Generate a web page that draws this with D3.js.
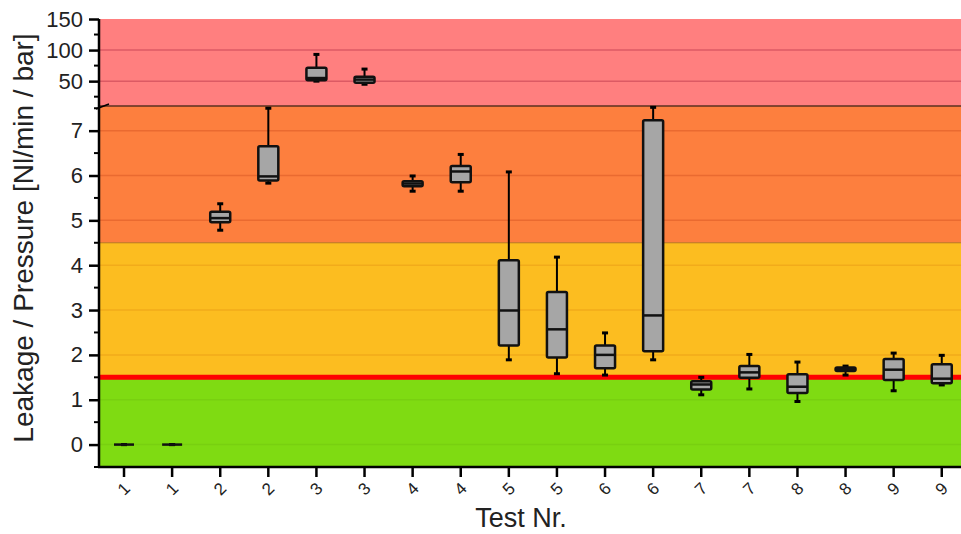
<!DOCTYPE html>
<html lang="en">
<head>
<meta charset="UTF-8">
<title>Leakage / Pressure box plot</title>
<script src="https://d3js.org/d3.v7.min.js"></script>
<style>
  body { margin: 0; background: #fff; font-family: "Liberation Sans", Arial, sans-serif; }
  svg { display: block; }
</style>
</head>
<body>
<svg id="chart" width="961" height="534"></svg>
<script>
// categories and box statistics
const labels = ["1","1","2","2","3","3","4","4","5","5","6","6","7","7","8","8","9","9"];
const whiskerLow  = [0, 0, 4.78, 5.83, 50.0, 45.0, 5.65, 5.65, 1.89, 1.58, 1.55, 1.89, 1.11, 1.24, 0.96, 1.55, 1.20, 1.33];
const q1          = [0, 0, 4.96, 5.89, 51.6, 47.5, 5.76, 5.85, 2.21, 1.94, 1.70, 2.08, 1.23, 1.49, 1.15, 1.64, 1.44, 1.37];
const median      = [0, 0, 5.05, 5.98, 55.0, 52.5, 5.82, 6.09, 2.99, 2.57, 2.00, 2.88, 1.34, 1.61, 1.29, 1.69, 1.67, 1.47];
const q3          = [0, 0, 5.19, 6.65, 71.5, 57.0, 5.87, 6.21, 4.11, 3.40, 2.21, 7.23, 1.41, 1.75, 1.57, 1.72, 1.91, 1.79];
const whiskerHigh = [0, 0, 5.37, 7.50, 93.0, 69.4, 5.99, 6.47, 6.08, 4.18, 2.49, 7.52, 1.50, 2.01, 1.84, 1.75, 2.04, 1.99];

// axis ticks
const lowTicks = [0, 1, 2, 3, 4, 5, 6, 7];
const highTicks = [50, 100, 150];
const limitLine = 1.5;
const zoneLimits = [-0.5, 1.5, 4.5, 7.55, 150];

const svg = d3.select("#chart");
const plotLeft = 99, plotRight = 961, plotTop = 19, plotBottom = 467, breakY = 106;

const x = d3.scaleLinear().domain([-0.52, 17.4]).range([plotLeft, plotRight]);
const yLow = d3.scaleLinear().domain([-0.5, 7.55]).range([plotBottom, breakY]);
const yHigh = d3.scaleLinear().domain([10, 150]).range([breakY, plotTop]);
const y = v => v > 7.55 ? yHigh(v) : yLow(v);

// background zones
const zoneColors = ["#7fdb12", "#fcbd20", "#fd7f3e", "#ff7f7f"];
const gridColors = ["#78d010", "#f2ab1a", "#ea6a30", "#dc5a64"];
for (let i = 0; i < 4; i++) {
  svg.append("rect")
    .attr("x", plotLeft).attr("width", plotRight - plotLeft)
    .attr("y", y(zoneLimits[i + 1]))
    .attr("height", y(zoneLimits[i]) - y(zoneLimits[i + 1]))
    .attr("fill", zoneColors[i]);
}

// gridlines
const zoneOf = v => v > 7.55 ? 3 : v > 4.5 ? 2 : v > 1.5 ? 1 : 0;
svg.append("g").selectAll("line")
  .data(lowTicks.concat([50, 100]))
  .join("line")
  .attr("x1", plotLeft).attr("x2", plotRight)
  .attr("y1", d => y(d)).attr("y2", d => y(d))
  .attr("stroke", d => gridColors[zoneOf(d)])
  .attr("stroke-width", 1.5);

// zone borders
svg.append("line").attr("x1", plotLeft).attr("x2", plotRight)
  .attr("y1", breakY).attr("y2", breakY)
  .attr("stroke", "#5a3020").attr("stroke-width", 1.5);
svg.append("line").attr("x1", plotLeft).attr("x2", plotRight)
  .attr("y1", yLow(4.5)).attr("y2", yLow(4.5))
  .attr("stroke", "#b8741c").attr("stroke-width", 1);

// limit line
svg.append("line").attr("x1", plotLeft).attr("x2", plotRight)
  .attr("y1", yLow(limitLine)).attr("y2", yLow(limitLine))
  .attr("stroke", "#ff0000").attr("stroke-width", 5);

// axes
const axisLow = svg.append("g")
  .attr("transform", `translate(${plotLeft},0)`)
  .call(d3.axisLeft(yLow).tickValues(lowTicks).tickSize(10).tickPadding(6).tickFormat(d3.format("d")));
const axisHigh = svg.append("g")
  .attr("transform", `translate(${plotLeft},0)`)
  .call(d3.axisLeft(yHigh).tickValues(highTicks).tickSize(10).tickPadding(6));
[axisLow, axisHigh].forEach(g => {
  g.select(".domain").remove();
  g.selectAll("line").attr("stroke", "#000").attr("stroke-width", 2.5);
  g.selectAll("text").attr("font-size", 22).attr("fill", "#222")
    .attr("font-family", "Liberation Sans, Arial, sans-serif");
});

// minor ticks
const minorLow = d3.range(-0.5, 7.51, 1);
const minorHigh = [25, 75, 125];
svg.append("g").selectAll("line")
  .data(minorLow.map(yLow).concat(minorHigh.map(yHigh)))
  .join("line")
  .attr("x1", plotLeft - 5).attr("x2", plotLeft)
  .attr("y1", d => d).attr("y2", d => d)
  .attr("stroke", "#000").attr("stroke-width", 2);

// axis lines
svg.append("line").attr("x1", plotLeft).attr("x2", plotLeft).attr("y1", plotTop).attr("y2", plotBottom + 1)
  .attr("stroke", "#000").attr("stroke-width", 2.5);
svg.append("line").attr("x1", plotLeft - 1).attr("x2", plotRight).attr("y1", plotBottom).attr("y2", plotBottom)
  .attr("stroke", "#000").attr("stroke-width", 2.5);

// axis break mark
svg.append("line").attr("x1", plotLeft - 3).attr("x2", plotLeft + 10)
  .attr("y1", breakY + 3).attr("y2", breakY - 2)
  .attr("stroke", "#000").attr("stroke-width", 1.5);

// x axis ticks and labels
const idx = d3.range(labels.length);
const xg = svg.append("g");
xg.selectAll("line").data(idx).join("line")
  .attr("x1", d => x(d)).attr("x2", d => x(d))
  .attr("y1", plotBottom).attr("y2", plotBottom + 10)
  .attr("stroke", "#000").attr("stroke-width", 2.5);
xg.selectAll("text").data(idx).join("text")
  .attr("transform", d => `translate(${x(d)},${plotBottom + 22}) rotate(-45)`)
  .attr("text-anchor", "middle")
  .attr("dominant-baseline", "central")
  .attr("font-size", 17).attr("fill", "#222")
  .text(d => labels[d]);

// boxes
const bw = 20;
const boxes = svg.append("g").selectAll("g").data(idx).join("g");
boxes.append("line")
  .attr("x1", d => x(d)).attr("x2", d => x(d))
  .attr("y1", d => y(whiskerHigh[d])).attr("y2", d => y(whiskerLow[d]))
  .attr("stroke", "#000").attr("stroke-width", 2);
[whiskerHigh, whiskerLow].forEach(arr => {
  boxes.append("line")
    .attr("x1", d => x(d) - 3).attr("x2", d => x(d) + 3)
    .attr("y1", d => y(arr[d])).attr("y2", d => y(arr[d]))
    .attr("stroke", "#000").attr("stroke-width", 3);
});
boxes.append("rect")
  .attr("x", d => x(d) - bw / 2).attr("width", bw)
  .attr("y", d => y(q3[d]))
  .attr("height", d => Math.max(0, y(q1[d]) - y(q3[d])))
  .attr("rx", 1.5)
  .attr("fill", "#a6a6a6").attr("stroke", "#111").attr("stroke-width", 2.5);
boxes.append("line")
  .attr("x1", d => x(d) - bw / 2).attr("x2", d => x(d) + bw / 2)
  .attr("y1", d => y(median[d])).attr("y2", d => y(median[d]))
  .attr("stroke", "#111").attr("stroke-width", 2.5);

// axis titles
svg.append("text")
  .attr("transform", "translate(33,238) rotate(-90)")
  .attr("text-anchor", "middle")
  .attr("font-size", 28).attr("fill", "#222")
  .text("Leakage / Pressure [Nl/min / bar]");
svg.append("text")
  .attr("x", 521).attr("y", 527)
  .attr("text-anchor", "middle")
  .attr("font-size", 27).attr("fill", "#222")
  .text("Test Nr.");
</script>
</body>
</html>
